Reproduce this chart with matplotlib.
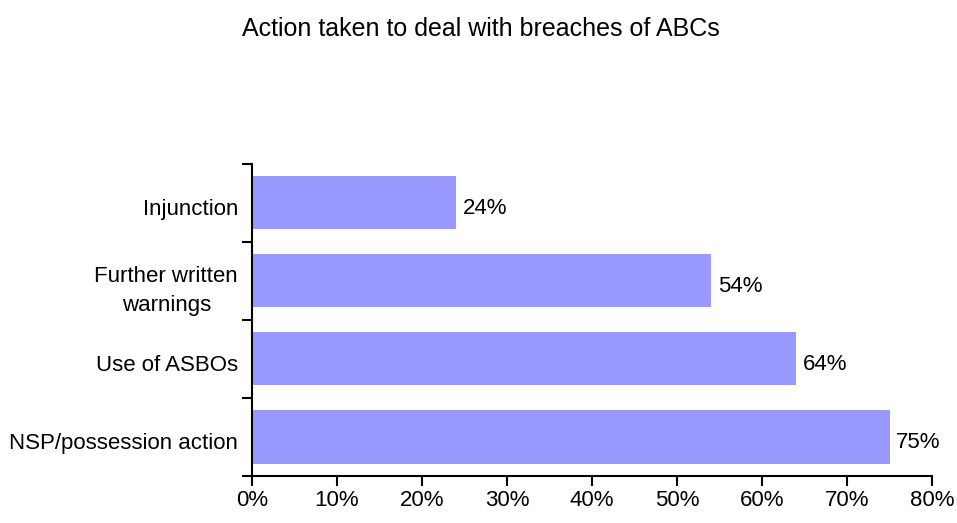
import matplotlib
matplotlib.use('Agg')
import matplotlib.pyplot as plt
import matplotlib.transforms as mtransforms
import numpy as np

plt.rcParams['font.family'] = ['Liberation Sans', 'DejaVu Sans']

# data (bottom to top as drawn)
categories = ['NSP/possession action', 'Use of ASBOs', 'Further written\nwarnings', 'Injunction']
values = [75, 64, 54, 24]
xticks = [0, 10, 20, 30, 40, 50, 60, 70, 80]

fig = plt.figure(figsize=(9.57, 5.23), dpi=100)
ax = fig.add_axes([0.2633, 0.0899, 0.7106, 0.5966])

pos = np.arange(len(categories))
ax.barh(pos, values, height=0.68, color='#9999FF', edgecolor='none')

for p, v in zip(pos, values):
    ax.text(v + 0.8, p - 0.07, '%d%%' % v, va='center', ha='left', fontsize=16)

ax.set_xlim(0, 80)
ax.set_ylim(-0.5, len(categories) - 0.5)
ax.set_xticks(xticks)
ax.set_xticklabels(['%d%%' % t for t in xticks], fontsize=16)
ax.set_yticks(pos)
ax.set_yticklabels(categories, fontsize=16, multialignment='center', linespacing=1.45)
ax.set_yticks(np.arange(-0.5, len(categories)), minor=True)

ax.tick_params(axis='y', which='major', length=0, pad=10)
ax.tick_params(axis='y', which='minor', length=7, width=1.5, direction='out')
ax.tick_params(axis='x', which='major', length=7, width=1.5, direction='out', pad=3)

# nudge category labels down a little
shift = mtransforms.ScaledTranslation(0, -4 / 100, fig.dpi_scale_trans)
for lab in ax.get_yticklabels():
    lab.set_transform(lab.get_transform() + shift)

for s in ['top', 'right']:
    ax.spines[s].set_visible(False)
for s in ['left', 'bottom']:
    ax.spines[s].set_linewidth(1.5)

fig.text(0.502, 0.944, 'Action taken to deal with breaches of ABCs', ha='center', va='center', fontsize=18)

plt.savefig('out.png', dpi=100)
